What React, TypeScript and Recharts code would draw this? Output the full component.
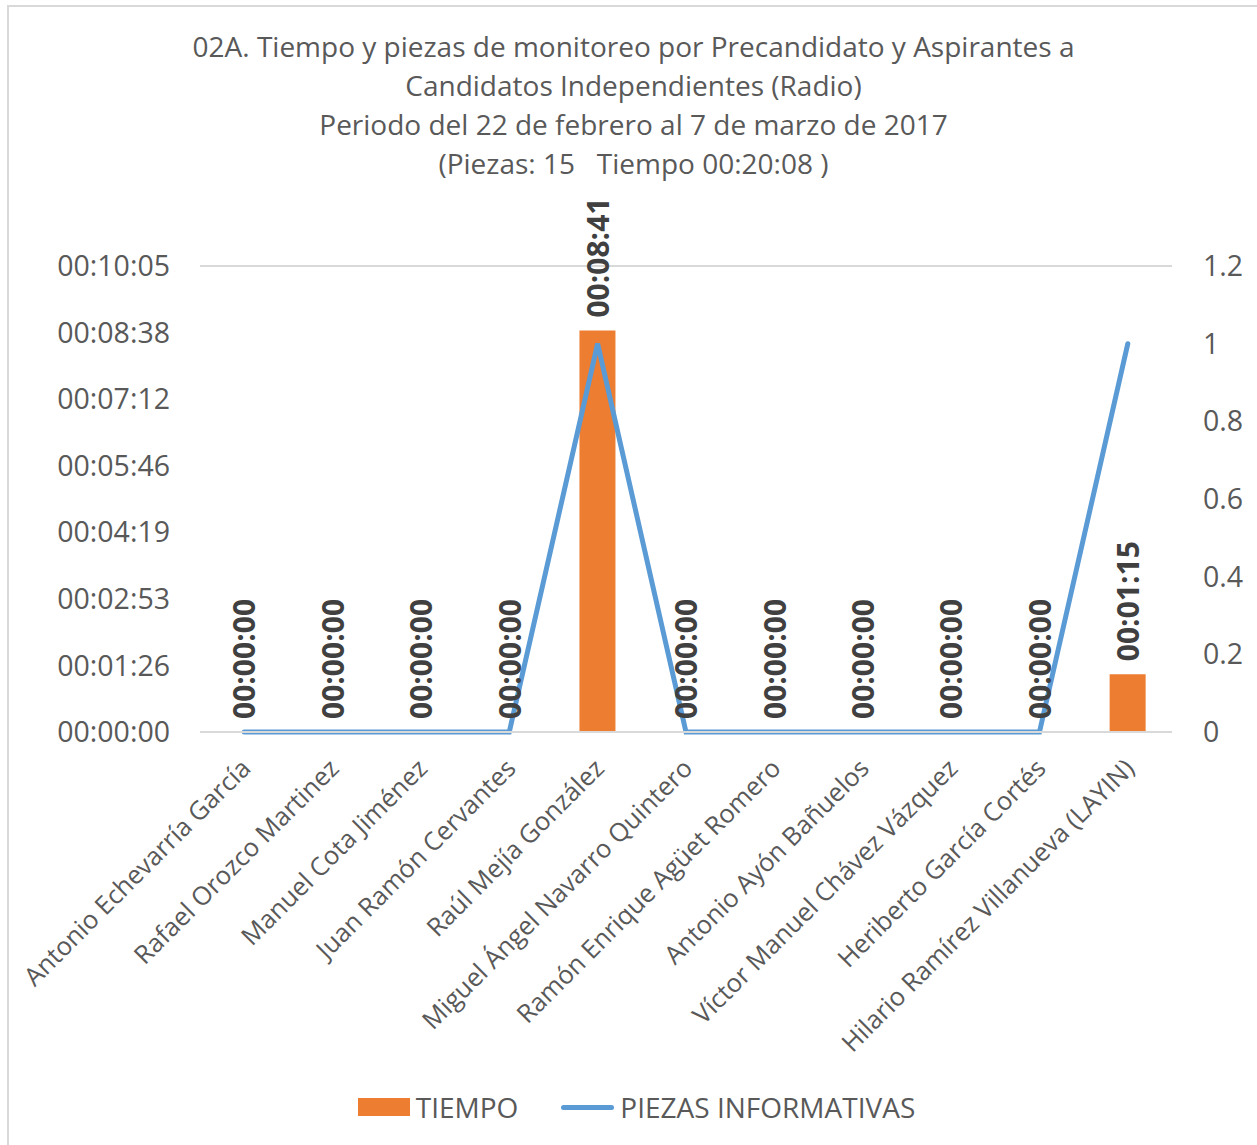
import {
  ComposedChart,
  Bar,
  Line,
  XAxis,
  YAxis,
  CartesianGrid,
  Legend,
  LabelList,
} from 'recharts';

const candidatos = [
  'Antonio Echevarría García',
  'Rafael Orozco Martinez',
  'Manuel Cota Jiménez',
  'Juan Ramón Cervantes',
  'Raúl Mejía González',
  'Miguel Ángel Navarro Quintero',
  'Ramón Enrique Agüet Romero',
  'Antonio Ayón Bañuelos',
  'Víctor Manuel Chávez Vázquez',
  'Heriberto García Cortés',
  'Hilario Ramírez Villanueva (LAYIN)',
];

// tiempo en segundos
const tiempo = [0, 0, 0, 0, 521, 0, 0, 0, 0, 0, 75];
const piezas = [0, 0, 0, 0, 1, 0, 0, 0, 0, 0, 1];

const tiempoTicks = [0, 86.4, 172.8, 259.2, 345.6, 432, 518.4, 604.8];
const piezasTicks = [0, 0.2, 0.4, 0.6, 0.8, 1, 1.2];

const titulo = [
  '02A. Tiempo y piezas de monitoreo por Precandidato y Aspirantes a',
  'Candidatos Independientes (Radio)',
  'Periodo del 22 de febrero al 7 de marzo de 2017',
  '(Piezas: 15   Tiempo 00:20:08 )',
];

const data = candidatos.map((nombre, i) => ({
  nombre,
  tiempo: tiempo[i],
  piezas: piezas[i],
}));

const FONT = '"Open Sans", sans-serif';
const GRIS = '#595959';

const fmtTiempo = (s: number) => {
  const t = Math.round(s);
  const h = Math.floor(t / 3600);
  const m = Math.floor((t % 3600) / 60);
  const sec = t % 60;
  const p = (n: number) => String(n).padStart(2, '0');
  return `${p(h)}:${p(m)}:${p(sec)}`;
};

// eslint-disable-next-line @typescript-eslint/no-explicit-any
const XTick = ({ x, y, payload }: any) => {
  const tx = x + 8;
  const ty = y + 30;
  return (
    <text
      x={tx}
      y={ty}
      transform={`rotate(-45 ${tx} ${ty})`}
      textAnchor="end"
      fontSize={25.5}
      fontFamily={FONT}
      fill={GRIS}
    >
      {payload.value}
    </text>
  );
};

// eslint-disable-next-line @typescript-eslint/no-explicit-any
const BarLabel = ({ x, y, width, value }: any) => {
  const cx = Number(x) + Number(width) / 2;
  const cy = Number(y) - 13;
  return (
    <text
      x={cx}
      y={cy}
      transform={`rotate(-90 ${cx} ${cy})`}
      textAnchor="start"
      dominantBaseline="central"
      fontSize={30}
      fontWeight="bold"
      fontFamily={FONT}
      fill="#404040"
    >
      {fmtTiempo(Number(value))}
    </text>
  );
};

const Leyenda = () => (
  <div
    style={{
      height: 36,
      display: 'flex',
      justifyContent: 'center',
      alignItems: 'center',
      fontFamily: FONT,
      fontSize: 28,
      color: GRIS,
      paddingLeft: 16,
    }}
  >
    <span style={{ width: 52, height: 18, background: '#ED7D31', marginRight: 6 }} />
    <span>TIEMPO</span>
    <span
      style={{
        width: 53,
        height: 5,
        borderRadius: 3,
        background: '#5B9BD5',
        marginLeft: 43,
        marginRight: 6,
      }}
    />
    <span>PIEZAS INFORMATIVAS</span>
  </div>
);

export default function App() {
  return (
    <div
      style={{
        position: 'absolute',
        left: 0,
        top: 0,
        width: 1257,
        height: 1145,
        overflow: 'hidden',
        background: '#fff',
      }}
    >
      <div
        style={{
          position: 'absolute',
          left: 7,
          top: 5,
          width: 1300,
          height: 1200,
          borderTop: '2px solid #d9d9d9',
          borderLeft: '2px solid #d9d9d9',
        }}
      />
      <div
        style={{
          position: 'absolute',
          left: 0,
          top: 27,
          width: 1267,
          textAlign: 'center',
          fontFamily: FONT,
          fontSize: 28,
          lineHeight: '39px',
          color: GRIS,
          whiteSpace: 'pre',
        }}
      >
        {titulo.map((t) => (
          <div key={t}>{t}</div>
        ))}
      </div>
      <ComposedChart
        width={1257}
        height={1145}
        data={data}
        margin={{ top: 266, right: 0, left: 0, bottom: 20 }}
      >
        <CartesianGrid vertical={false} stroke="#d9d9d9" strokeWidth={2} />
        <XAxis
          dataKey="nombre"
          interval={0}
          height={357}
          axisLine={{ stroke: '#d9d9d9', strokeWidth: 2 }}
          tickLine={false}
          tick={<XTick />}
        />
        <YAxis
          yAxisId="left"
          domain={[0, 604.8]}
          ticks={tiempoTicks}
          width={200}
          axisLine={false}
          tickLine={false}
          tickMargin={24}
          tickFormatter={fmtTiempo}
          tick={{ fontSize: 28.5, fill: GRIS, fontFamily: FONT }}
        />
        <YAxis
          yAxisId="right"
          orientation="right"
          domain={[0, 1.2]}
          ticks={piezasTicks}
          width={85}
          axisLine={false}
          tickLine={false}
          tickMargin={25}
          tick={{ fontSize: 28.5, fill: GRIS, fontFamily: FONT }}
        />
        <Legend verticalAlign="bottom" content={<Leyenda />} />
        <Bar
          yAxisId="left"
          dataKey="tiempo"
          name="TIEMPO"
          fill="#ED7D31"
          barSize={36}
          minPointSize={0.01}
          isAnimationActive={false}
        >
          <LabelList dataKey="tiempo" content={<BarLabel />} />
        </Bar>
        <Line
          yAxisId="right"
          type="linear"
          dataKey="piezas"
          name="PIEZAS INFORMATIVAS"
          stroke="#5B9BD5"
          strokeWidth={5}
          strokeLinecap="round"
          dot={false}
          activeDot={false}
          isAnimationActive={false}
        />
      </ComposedChart>
    </div>
  );
}
